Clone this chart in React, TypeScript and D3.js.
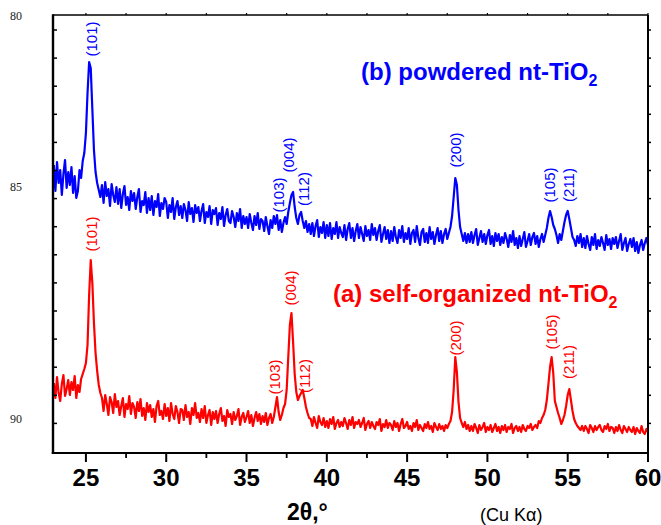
import React from 'react';
import * as d3 from 'd3';

// 2θ sampling: start angle and step (degrees)
const START_ANGLE = 23.0;
const STEP = 0.1;

// (a) self-organized nt-TiO2 — intensity (a.u.), 23.0° … 60.0°
const intensityA: number[] = [
  70, 55, 76, 60, 52, 69, 78, 57, 64, 73,
  58, 71, 63, 77, 55, 68, 61, 74, 79, 84,
  90, 108, 158, 193, 170, 130, 100, 82, 68, 60,
  55, 42, 58, 49, 38, 56, 51, 40, 59, 46,
  52, 38, 47, 55, 36, 49, 44, 57, 39, 50,
  46, 35, 51, 42, 54, 37, 45, 33, 50, 41,
  48, 36, 44, 31, 47, 52, 38, 42, 34, 49,
  37, 45, 32, 50, 39, 34, 47, 41, 30, 44,
  43, 33, 48, 36, 41, 29, 45, 38, 50, 35,
  40, 31, 44, 35, 47, 30, 38, 43, 28, 41,
  34, 42, 30, 39, 45, 32, 37, 27, 43, 36,
  39, 29, 41, 33, 37, 44, 28, 36, 40, 31,
  36, 42, 30, 38, 27, 35, 41, 32, 39, 29,
  37, 31, 40, 28, 35, 39, 30, 36, 46, 56,
  41, 33, 38, 45, 49, 63, 96, 128, 140, 111,
  79, 61, 53, 57, 60, 63, 55, 46, 40, 35,
  34, 27, 36, 30, 25, 37, 31, 28, 35, 26,
  32, 25, 34, 29, 36, 24, 30, 33, 26, 31,
  27, 35, 30, 24, 33, 28, 36, 25, 31, 29,
  33, 26, 30, 35, 23, 29, 32, 25, 31, 27,
  24, 31, 28, 34, 22, 29, 26, 33, 25, 30,
  28, 23, 32, 26, 30, 22, 29, 34, 25, 27,
  31, 24, 27, 22, 30, 26, 33, 23, 28, 25,
  22, 29, 25, 31, 24, 27, 21, 30, 26, 23,
  29, 24, 27, 22, 28, 25, 29, 32, 41, 63,
  96, 81, 51, 35, 30, 26, 31, 24, 28, 22,
  27, 22, 29, 25, 20, 28, 23, 26, 30, 21,
  26, 23, 28, 21, 25, 29, 22, 26, 20, 27,
  23, 28, 21, 26, 24, 29, 20, 25, 27, 22,
  26, 21, 28, 24, 22, 27, 25, 29, 23, 26,
  28, 25, 32, 30, 35, 38, 43, 53, 69, 86,
  96, 80, 52, 46, 40, 35, 29, 33, 38, 47,
  58, 64, 53, 42, 34, 30, 27, 25, 23, 27,
  22, 27, 24, 20, 28, 25, 21, 27, 23, 26,
  28, 23, 21, 27, 24, 29, 22, 26, 25, 20,
  26, 22, 28, 23, 20, 27, 24, 21, 26, 23,
  21, 26, 19, 25, 22, 20, 27, 21, 19, 24,
  21,
];

// (b) powdered nt-TiO2 — intensity (a.u.), 23.0° … 60.0°
const intensityB: number[] = [
  288, 262, 291, 270, 283, 258, 279, 293, 265, 281,
  268, 286, 260, 277, 255, 262, 283, 275, 292, 300,
  320, 360, 391, 385, 344, 303, 281, 270, 263, 256,
  268, 250, 271, 257, 264, 247, 269, 258, 251, 266,
  249, 264, 245, 259, 267, 248, 256, 243, 262, 252,
  260, 244, 256, 264, 241, 252, 248, 261, 240, 255,
  243, 257, 238, 252, 246, 259, 237, 250, 244, 255,
  251, 235, 248, 241, 255, 234, 246, 252, 238, 247,
  235, 249, 243, 232, 251, 239, 245, 231, 248, 240,
  246, 232, 242, 249, 230, 241, 236, 247, 229, 243,
  239, 245, 228, 240, 234, 246, 227, 238, 244, 232,
  230, 242, 236, 226, 240, 232, 244, 225, 237, 229,
  236, 225, 239, 230, 223, 237, 228, 240, 224, 234,
  232, 222, 236, 227, 219, 233, 225, 237, 229, 238,
  223, 233, 221, 230, 236, 229, 241, 250, 258, 261,
  246, 235, 229, 238, 241, 232, 225, 232, 221, 229,
  219, 230, 217, 227, 233, 216, 226, 220, 231, 215,
  228, 217, 230, 214, 225, 219, 231, 215, 226, 220,
  216, 228, 213, 224, 230, 215, 225, 212, 222, 229,
  215, 226, 219, 212, 227, 217, 223, 213, 229, 218,
  225, 213, 222, 228, 211, 219, 226, 214, 223, 210,
  222, 212, 226, 216, 210, 223, 215, 227, 211, 220,
  214, 225, 209, 220, 223, 211, 227, 215, 208, 221,
  224, 211, 220, 210, 226, 214, 221, 209, 218, 225,
  212, 222, 210, 219, 224, 214, 220, 226, 237, 256,
  275, 268, 243, 226, 219, 212, 220, 210, 219, 211,
  221, 210, 218, 224, 208, 215, 222, 211, 219, 209,
  218, 223, 209, 217, 207, 220, 212, 219, 208, 216,
  210, 220, 214, 206, 218, 211, 222, 208, 215, 205,
  217, 207, 214, 221, 206, 212, 219, 208, 216, 220,
  209, 217, 206, 214, 219, 211, 218, 225, 235, 242,
  236, 228, 224, 218, 210, 219, 213, 222, 231, 238,
  242, 234, 225, 216, 213, 207, 217, 210, 219, 206,
  215, 205, 217, 209, 203, 216, 208, 219, 204, 213,
  207, 216, 210, 203, 218, 208, 214, 204, 215, 209,
  216, 205, 212, 219, 203, 210, 215, 202, 209, 214,
  206, 215, 202, 211, 200, 208, 213, 203, 210, 215,
  208,
];

// Peak (hkl) annotations: label, 2θ, intensity at label centre
const peakLabelsA = ['(101)', '(103)', '(004)', '(112)', '(200)', '(105)', '(211)'];
const peakAnglesA = [25.38, 36.77, 37.77, 38.64, 48.04, 54.0, 55.05];
const peakLabelLevelA = [219, 76, 165, 77, 115, 121, 91];

const peakLabelsB = ['(101)', '(103)', '(004)', '(112)', '(200)', '(105)', '(211)'];
const peakAnglesB = [25.35, 37.02, 37.65, 38.55, 48.04, 53.9, 55.05];
const peakLabelLevelB = [414, 258, 298, 264, 303, 268, 268];

const xMajorTicks = [25, 30, 35, 40, 45, 50, 55, 60];
const yTickLabels = ['80', '85', '90'];

const W = 661;
const H = 525;
const M = { left: 53, right: 648, top: 15, bottom: 453 };

export default function App() {
  const x = d3.scaleLinear().domain([22.95, 60]).range([M.left, M.right]);
  const y = d3.scaleLinear().domain([0, 438]).range([M.bottom, M.top]);

  const toPts = (arr: number[]) => arr.map((v, i) => [START_ANGLE + i * STEP, v] as [number, number]);
  const line = d3
    .line<[number, number]>()
    .x((d) => x(d[0]))
    .y((d) => y(d[1]));

  const xMinor = d3.range(27.5, 60, 5);
  const yTicks = d3.range(29.6, 438, 28.1);
  const topTicks = d3.range(25, 60.01, 2.5);

  const yLabelY = [20, 191, 423];

  const labelFont = 'Arial, "Liberation Sans", Helvetica, sans-serif';

  const peakText = (labels: string[], angles: number[], levels: number[], color: string) =>
    labels.map((t, i) => {
      const cx = x(angles[i]);
      const cy = y(levels[i]);
      return (
        <text
          key={t + i}
          transform={`translate(${cx},${cy}) rotate(-90)`}
          textAnchor="middle"
          dy="0.36em"
          fontSize={15}
          fontFamily={labelFont}
          fill={color}
        >
          {t}
        </text>
      );
    });

  return (
    <svg
      width={W}
      height={H}
      style={{ position: 'absolute', left: 0, top: 0, background: '#fff' }}
    >
      <rect x={0} y={0} width={W} height={H} fill="#fff" />
      {/* traces */}
      <path d={line(toPts(intensityB)) || ''} fill="none" stroke="#0000ff" strokeWidth={2.2} strokeLinejoin="round" />
      <path d={line(toPts(intensityA)) || ''} fill="none" stroke="#ff0000" strokeWidth={2.2} strokeLinejoin="round" />

      {/* frame */}
      <line x1={M.left} x2={M.right} y1={M.top} y2={M.top} stroke="#000" strokeWidth={1.6} />
      <line x1={M.right} x2={M.right} y1={M.top} y2={M.bottom} stroke="#000" strokeWidth={2} />
      <line x1={M.left} x2={M.left} y1={M.top - 0.8} y2={M.bottom + 1} stroke="#000" strokeWidth={2.4} />
      <line x1={M.left - 1.2} x2={M.right + 1} y1={M.bottom} y2={M.bottom} stroke="#000" strokeWidth={2.2} />

      {/* bottom ticks */}
      {xMajorTicks.map((t) => (
        <line key={'M' + t} x1={x(t)} x2={x(t)} y1={M.bottom} y2={M.bottom + 9} stroke="#000" strokeWidth={2} />
      ))}
      {xMinor.map((t) => (
        <line key={'m' + t} x1={x(t)} x2={x(t)} y1={M.bottom} y2={M.bottom + 5} stroke="#000" strokeWidth={1.8} />
      ))}
      {topTicks.map((t) => (
        <line key={'t' + t} x1={x(t)} x2={x(t)} y1={M.top} y2={M.top - 2} stroke="#000" strokeWidth={1.2} />
      ))}
      {/* left/right ticks */}
      {yTicks.map((v) => (
        <g key={'y' + v}>
          <line x1={M.left} x2={M.left + 4} y1={y(v)} y2={y(v)} stroke="#000" strokeWidth={1.5} />
          <line x1={M.right} x2={M.right + 3} y1={y(v)} y2={y(v)} stroke="#000" strokeWidth={1.5} />
        </g>
      ))}

      {/* x tick labels */}
      {xMajorTicks.map((t) => (
        <text
          key={'xl' + t}
          x={x(t)}
          y={486}
          textAnchor="middle"
          fontSize={24}
          fontWeight="bold"
          fontFamily={labelFont}
          fill="#000"
        >
          {t}
        </text>
      ))}

      {/* y labels */}
      {yTickLabels.map((t, i) => (
        <text
          key={'yl' + t}
          x={16}
          y={yLabelY[i]}
          textAnchor="middle"
          fontSize={12}
          fontFamily='"Liberation Serif", "Times New Roman", serif'
          fill="#222"
        >
          {t}
        </text>
      ))}

      {/* axis title */}
      <text x={287} y={520} fontSize={23} fontWeight="bold" fontFamily={labelFont} fill="#000">
        2θ,°
      </text>
      <text x={480} y={521} fontSize={18} fontFamily={labelFont} fill="#000">
        (Cu Kα)
      </text>

      {/* series titles */}
      <text x={361} y={80} fontSize={24} fontWeight="bold" fontFamily={labelFont} fill="#0000ff">
        (b) powdered nt-TiO
        <tspan fontSize={16} dy={6}>2</tspan>
      </text>
      <text x={333} y={302} fontSize={24} fontWeight="bold" fontFamily={labelFont} fill="#ff0000">
        (a) self-organized nt-TiO
        <tspan fontSize={16} dy={6}>2</tspan>
      </text>

      {peakText(peakLabelsB, peakAnglesB, peakLabelLevelB, '#0000ff')}
      {peakText(peakLabelsA, peakAnglesA, peakLabelLevelA, '#ff0000')}
    </svg>
  );
}
